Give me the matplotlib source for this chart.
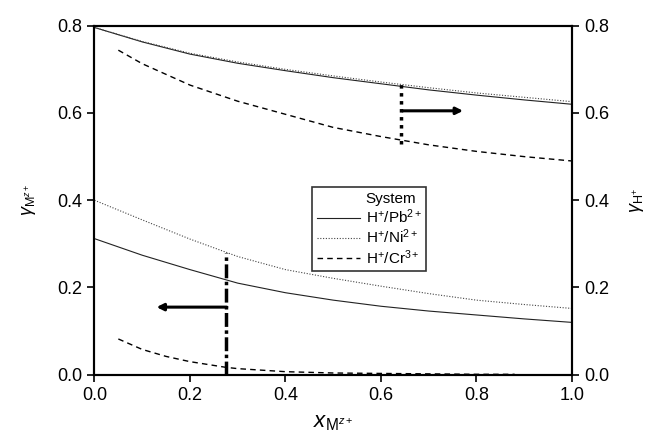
import matplotlib
matplotlib.use("Agg")
import matplotlib.pyplot as plt
from matplotlib.lines import Line2D

plt.rcParams["font.family"] = ["Liberation Sans", "DejaVu Sans"]
plt.rcParams["mathtext.fontset"] = "custom"
plt.rcParams["mathtext.rm"] = "Liberation Sans"
plt.rcParams["mathtext.it"] = "Liberation Sans:italic"

# gamma_H+ (upper curves, right axis)
x_h = [0.0, 0.1, 0.2, 0.3, 0.4, 0.5, 0.6, 0.7, 0.8, 0.9, 1.0]
h_pb = [0.796, 0.763, 0.735, 0.714, 0.697, 0.681, 0.667, 0.653, 0.641, 0.630, 0.620]
h_ni = [0.796, 0.764, 0.737, 0.717, 0.700, 0.685, 0.671, 0.658, 0.646, 0.636, 0.626]
x_h_cr = [0.05, 0.1, 0.2, 0.3, 0.4, 0.5, 0.6, 0.7, 0.8, 0.9, 1.0]
h_cr = [0.744, 0.713, 0.664, 0.627, 0.597, 0.567, 0.546, 0.527, 0.512, 0.500, 0.490]

# gamma_Mz+ (lower curves, left axis)
x_m = [0.0, 0.1, 0.2, 0.3, 0.4, 0.5, 0.6, 0.7, 0.8, 0.9, 1.0]
m_pb = [0.312, 0.274, 0.241, 0.210, 0.188, 0.171, 0.157, 0.146, 0.137, 0.128, 0.120]
m_ni = [0.400, 0.355, 0.311, 0.271, 0.241, 0.221, 0.203, 0.186, 0.171, 0.161, 0.152]
x_m_cr = [0.05, 0.1, 0.15, 0.2, 0.275, 0.3, 0.4, 0.5, 0.6, 0.7, 0.8, 0.88]
m_cr = [0.082, 0.058, 0.042, 0.030, 0.017, 0.014, 0.007, 0.004, 0.003, 0.002, 0.001, 0.001]

ticks = [0.0, 0.2, 0.4, 0.6, 0.8]
xticks = [0.0, 0.2, 0.4, 0.6, 0.8, 1.0]

fig = plt.figure(figsize=(6.47, 4.44), dpi=100)
ax = fig.add_axes([0.146, 0.156, 0.738, 0.786])
ax2 = ax.twinx()

ax.plot(x_m, m_pb, color="#222222", lw=0.8, ls="-")
ax.plot(x_m, m_ni, color="#444444", lw=0.8, ls=(0, (1, 1.5)))
ax.plot(x_m_cr, m_cr, color="black", lw=1.0, ls=(0, (4, 3)))
ax2.plot(x_h, h_pb, color="#222222", lw=0.8, ls="-")
ax2.plot(x_h, h_ni, color="#444444", lw=0.8, ls=(0, (1, 1.5)))
ax2.plot(x_h_cr, h_cr, color="black", lw=1.0, ls=(0, (4, 3)))

# guide lines and arrows
ax.plot([0.275, 0.275], [0.0, 0.279], color="black", lw=2.5, ls=(0, (4, 1, 1, 1)))
ax.annotate("", xy=(0.13, 0.155), xytext=(0.277, 0.155),
            arrowprops=dict(arrowstyle="-|>", lw=2.2, color="black",
                            mutation_scale=10, shrinkA=0, shrinkB=0))
ax2.plot([0.641, 0.641], [0.528, 0.669], color="black", lw=2.5, ls=(0, (1, 1.3)))
ax2.annotate("", xy=(0.772, 0.605), xytext=(0.645, 0.605),
             arrowprops=dict(arrowstyle="-|>", lw=2.2, color="black",
                             mutation_scale=10, shrinkA=0, shrinkB=0))

for a in (ax, ax2):
    a.set_xlim(0.0, 1.0)
    a.set_ylim(0.0, 0.8)
    for s in a.spines.values():
        s.set_linewidth(1.5)
ax.set_xticks(xticks)
ax.set_xticklabels([f"{t:.1f}" for t in xticks])
ax.set_yticks(ticks)
ax.set_yticklabels([f"{t:.1f}" for t in ticks])
ax2.set_yticks(ticks)
ax2.set_yticklabels([f"{t:.1f}" for t in ticks])
ax.tick_params(axis="both", direction="out", length=5, width=1.2, labelsize=13)
ax2.tick_params(axis="y", direction="out", length=5, width=1.2, labelsize=13)

ax.set_xlabel(r"$x_{\mathrm{M}^{z+}}$", fontsize=16, labelpad=6)
ax.set_ylabel(r"$\gamma_{\mathrm{M}^{z+}}$", fontsize=13, labelpad=14)
ax2.set_ylabel(r"$\gamma_{\mathrm{H}^{+}}$", fontsize=13, labelpad=14, rotation=90)

handles = [
    Line2D([], [], color="none"),
    Line2D([], [], color="#222222", lw=0.8, ls="-"),
    Line2D([], [], color="#444444", lw=0.8, ls=(0, (1, 1.5))),
    Line2D([], [], color="black", lw=1.0, ls=(0, (4, 3))),
]
labels = ["System", r"H$^{+}$/Pb$^{2+}$", r"H$^{+}$/Ni$^{2+}$", r"H$^{+}$/Cr$^{3+}$"]
leg = ax2.legend(handles, labels, loc="upper left", bbox_to_anchor=(0.44, 0.56),
                 fontsize=11, frameon=True, fancybox=False, edgecolor="black",
                 handlelength=2.8, handletextpad=0.4, labelspacing=0.12,
                 borderpad=0.3)
leg.get_frame().set_linewidth(1.2)

fig.savefig("out.png", dpi=100)
